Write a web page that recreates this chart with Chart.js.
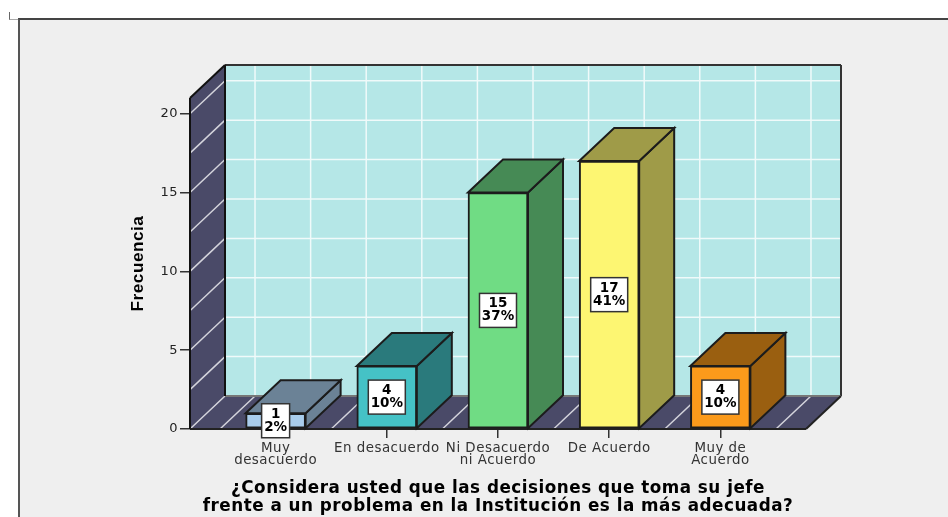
<!DOCTYPE html>
<html>
<head>
<meta charset="utf-8">
<title>Frecuencia</title>
<script src="https://cdn.jsdelivr.net/npm/chart.js@4/dist/chart.umd.min.js"></script>
<style>
  html, body { margin: 0; padding: 0; background: #fff; overflow: hidden; }
  #frame { position: absolute; left: 18px; top: 18px; width: 930px; height: 499px; background: #efefef;
           border-left: 2px solid #555; border-top: 2px solid #444; box-sizing: border-box; }
  #corner { position: absolute; left: 9px; top: 12px; width: 9px; height: 7px; border-left: 1px solid #666; border-bottom: 1px solid #aaa; }
  #myChart { position: absolute; left: 0; top: 0; }
</style>
</head>
<body>
<div id="corner"></div>
<div id="frame"></div>
<canvas id="myChart" width="948" height="517"></canvas>
<script>
const categories = [["Muy", "desacuerdo"], "En desacuerdo", ["Ni Desacuerdo", "ni Acuerdo"], "De Acuerdo", ["Muy de", "Acuerdo"]];
const counts = [1, 4, 15, 17, 4];
const percents = ["2%", "10%", "37%", "41%", "10%"];
const yTicks = [0, 5, 10, 15, 20];

const frontColors = ["#a9cdec", "#45c2c6", "#70dc84", "#fdf672", "#fb9a1b"];
const darkColors = ["#6b8296", "#2a7a7c", "#468a55", "#9f9b48", "#9a5f10"];

// depth of the fake 3D box, in pixels
const DX = 35;
const DY = 33;
const INK = "#1c1c1c";

function poly(ctx, pts, fill, stroke, lw) {
    ctx.beginPath();
    pts.forEach((p, i) => i ? ctx.lineTo(p[0], p[1]) : ctx.moveTo(p[0], p[1]));
    ctx.closePath();
    if (fill) { ctx.fillStyle = fill; ctx.fill(); }
    if (stroke) { ctx.strokeStyle = stroke; ctx.lineWidth = lw || 2; ctx.stroke(); }
}

function seg(ctx, x1, y1, x2, y2, color, lw) {
    ctx.beginPath();
    ctx.moveTo(x1, y1);
    ctx.lineTo(x2, y2);
    ctx.strokeStyle = color;
    ctx.lineWidth = lw;
    ctx.stroke();
}

const box3d = {
    id: "box3d",
    beforeDraw(chart) {
        // the axis text in the reference is slightly spaced out
        chart.ctx.letterSpacing = "0.5px";
    },
    beforeDatasetsDraw(chart) {
        const ctx = chart.ctx;
        const { left, right, top, bottom } = chart.chartArea;
        const xs = chart.scales.x;
        const ys = chart.scales.y;
        ctx.save();

        // back wall, side wall, floor
        poly(ctx, [[left + DX, top - DY], [right + DX, top - DY], [right + DX, bottom - DY], [left + DX, bottom - DY]], "#b5e7e7");
        poly(ctx, [[left, top], [left + DX, top - DY], [left + DX, bottom - DY], [left, bottom]], "#4a4a68");
        poly(ctx, [[left, bottom], [left + DX, bottom - DY], [right + DX, bottom - DY], [right, bottom]], "#4a4a68");

        // grid lines every 2.5 on the walls
        for (let v = 0; v < ys.max; v += 2.5) {
            const y = ys.getPixelForValue(v);
            seg(ctx, left, y, left + DX, y - DY, "#d4d4dc", 1.5);
            if (v > 0) seg(ctx, left + DX, y - DY, right + DX, y - DY, "#f0fafa", 1.5);
        }
        for (let v = -0.5; v <= 4.5; v += 0.5) {
            const x = xs.getPixelForValue(v);
            seg(ctx, x + DX, top - DY, x + DX, bottom - DY, "#f0fafa", 1.5);
            seg(ctx, x, bottom, x + DX, bottom - DY, "#d4d4dc", 1.5);
        }

        // wall outlines
        seg(ctx, left + DX, top - DY, right + DX, top - DY, "#333", 2);
        seg(ctx, right + DX, top - DY, right + DX, bottom - DY, "#333", 2);
        seg(ctx, left + DX, bottom - DY, right + DX, bottom - DY, "#777", 2);
        seg(ctx, left + DX, top - DY, left + DX, bottom - DY, "#111", 2);
        seg(ctx, left, top, left + DX, top - DY, "#111", 2);
        seg(ctx, left, top, left, bottom, "#111", 2);
        seg(ctx, left, bottom, right, bottom, "#222", 2);
        seg(ctx, right, bottom, right + DX, bottom - DY, "#222", 2);

        // side and top faces of the bars
        chart.getDatasetMeta(0).data.forEach((bar, i) => {
            const p = bar.getProps(["x", "y", "base", "width"], true);
            const l = p.x - p.width / 2;
            const r = p.x + p.width / 2;
            poly(ctx, [[r, p.y], [r + DX, p.y - DY], [r + DX, p.base - DY], [r, p.base]], darkColors[i], INK, 2);
            poly(ctx, [[l, p.y], [l + DX, p.y - DY], [r + DX, p.y - DY], [r, p.y]], darkColors[i], INK, 2);
        });
        ctx.restore();
    },
    afterDatasetsDraw(chart) {
        const ctx = chart.ctx;
        ctx.save();
        ctx.letterSpacing = "0px";
        ctx.font = "bold 13.5px 'DejaVu Sans'";
        ctx.textAlign = "center";
        ctx.textBaseline = "middle";
        chart.getDatasetMeta(0).data.forEach((bar, i) => {
            const p = bar.getProps(["x", "y", "base"], true);
            const cy = (p.y + p.base) / 2;
            const w = percents[i].length > 2 ? 37 : 28;
            ctx.fillStyle = "#fff";
            ctx.fillRect(p.x - w / 2, cy - 17, w, 34);
            ctx.strokeStyle = "#333";
            ctx.lineWidth = 1.5;
            ctx.strokeRect(p.x - w / 2, cy - 17, w, 34);
            ctx.fillStyle = "#000";
            ctx.fillText(String(counts[i]), p.x, cy - 6.5);
            ctx.fillText(percents[i], p.x, cy + 6.5);
        });
        ctx.restore();
    }
};

new Chart(document.getElementById("myChart").getContext("2d"), {
    type: "bar",
    data: {
        datasets: [{
            data: counts.map((v, i) => ({ x: i, y: v })),
            backgroundColor: frontColors,
            borderColor: INK,
            borderWidth: 2,
            borderSkipped: false,
            barThickness: 60
        }]
    },
    options: {
        responsive: false,
        animation: false,
        layout: { padding: { top: 98, right: 142, left: 0, bottom: 0 } },
        plugins: { legend: { display: false }, tooltip: { enabled: false } },
        scales: {
            x: {
                type: "linear",
                offset: false,
                min: -0.77,
                max: 4.77,
                afterBuildTicks: s => { s.ticks = categories.map((c, i) => ({ value: i })); },
                afterFit: s => { s.height = 88; },
                grid: { offset: false, drawOnChartArea: false, tickLength: 9, color: "#333", lineWidth: 1.5 },
                border: { display: false },
                ticks: {
                    autoSkip: false,
                    maxRotation: 0,
                    padding: 4,
                    color: "#333",
                    font: { family: "'DejaVu Sans'", size: 13.4, lineHeight: 0.9 },
                    callback: v => categories[v]
                },
                title: {
                    display: true,
                    text: ["¿Considera usted que las decisiones que toma su jefe", "frente a un problema en la Institución es la más adecuada?"],
                    color: "#000",
                    font: { family: "'DejaVu Sans'", size: 16.8, weight: "bold", lineHeight: 1.08 },
                    padding: { top: 0, bottom: 1 }
                }
            },
            y: {
                min: 0,
                max: 21,
                afterBuildTicks: s => { s.ticks = yTicks.map(v => ({ value: v })); },
                afterFit: s => { s.width = 190; },
                grid: { drawOnChartArea: false, tickLength: 10, color: "#333", lineWidth: 1.5 },
                border: { display: false },
                ticks: {
                    padding: 2,
                    color: "#222",
                    font: { family: "'DejaVu Sans'", size: 13 }
                },
                title: {
                    display: true,
                    text: "Frecuencia",
                    color: "#000",
                    font: { family: "'Liberation Sans'", size: 17.2, weight: "bold" },
                    padding: { top: 128, bottom: 0 }
                }
            }
        }
    },
    plugins: [box3d]
});
</script>
</body>
</html>
